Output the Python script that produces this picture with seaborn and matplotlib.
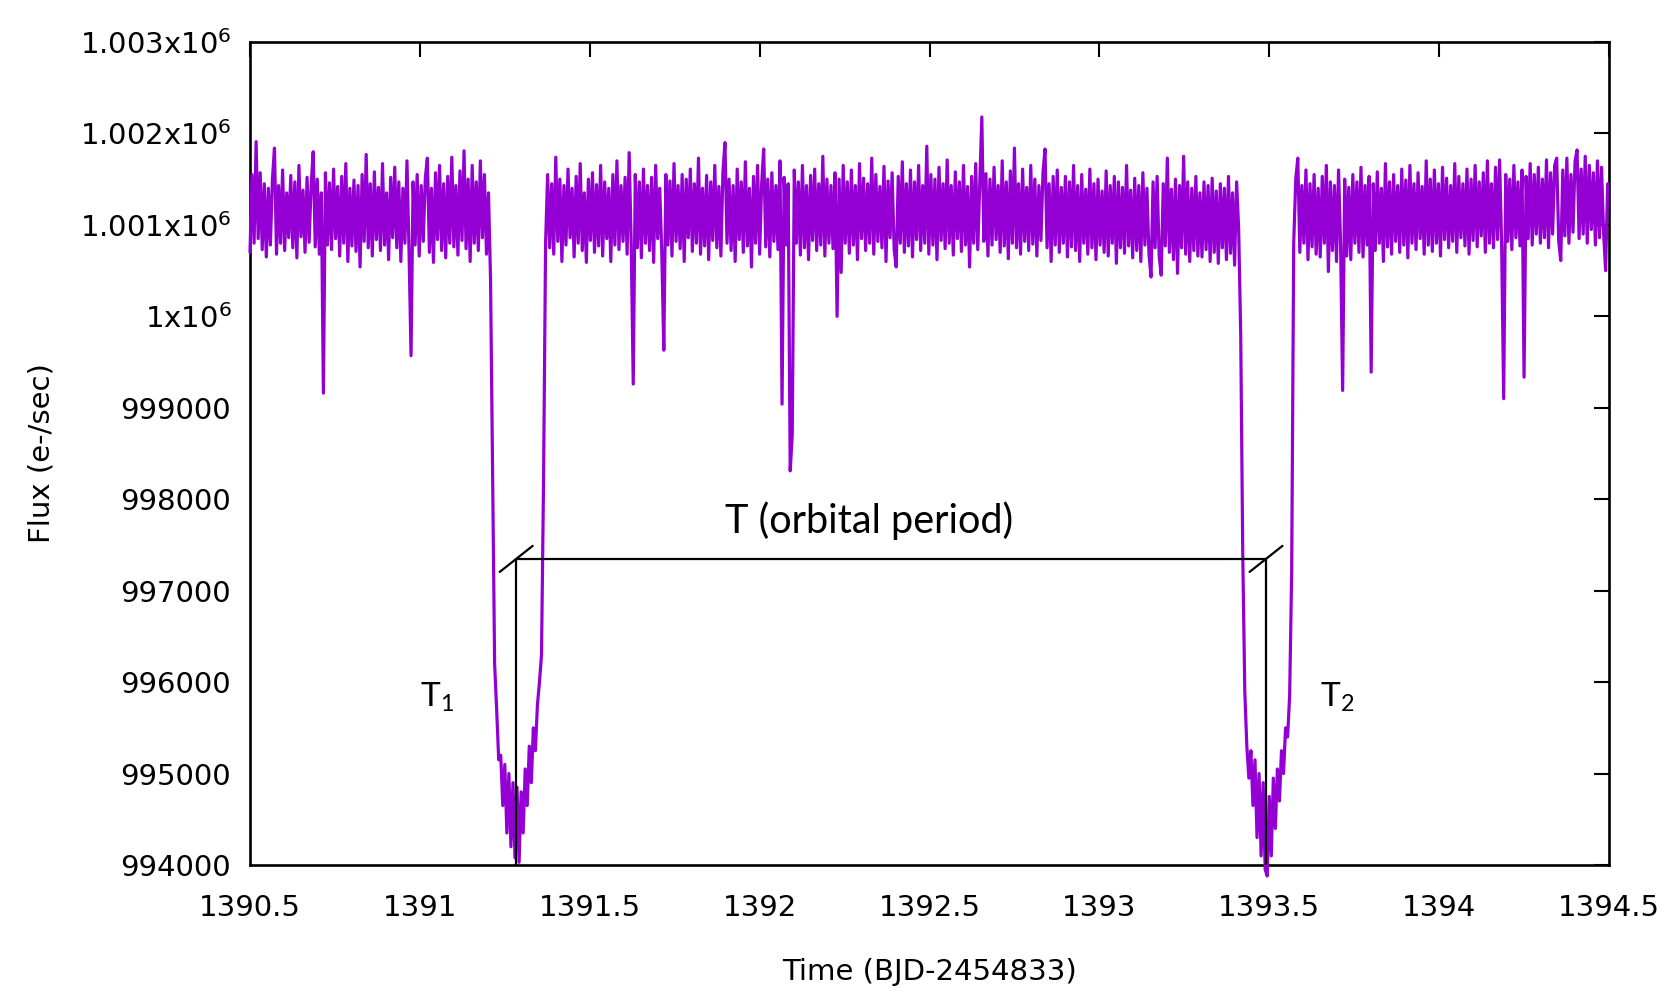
import numpy as np
import pandas as pd
import matplotlib
matplotlib.use("Agg")
import matplotlib.pyplot as plt
import seaborn as sns

# ---------------- data ----------------
cadence = 0.006  # days between samples

start_before = 1390.500
flux_before = [
    1000700, 1001550, 1000800, 1001910, 1000850, 1001570, 1000730, 1001450, 1000650, 1001400,
    1000780, 1001500, 1001840, 1000680, 1001430, 1000800, 1001600, 1000720, 1001350, 1000860,
    1001540, 1000750, 1001470, 1000640, 1001650, 1000870, 1001380, 1000700, 1001520, 1000810,
    1001430, 1001800, 1000760, 1001500, 1000680, 1001350, 999160, 1001570, 1000780, 1001460,
    1000730, 1001610, 1000850, 1001420, 1000660, 1001530, 1000800, 1001670, 1000600, 1001400,
    1000770, 1001490, 1000710, 1001430, 1000540, 1001550, 1000820, 1001770, 1000750, 1001450,
    1000660, 1001580, 1000840, 1001410, 1000720, 1001670, 1000780, 1001350, 1000620, 1001520,
    1000860, 1001630, 1000750, 1001470, 1000600, 1001400, 1000800, 1001700, 1000730, 999570,
    1001470, 1000780, 1001550, 1000660, 1001430, 1000820, 1001510, 1001730, 1000700, 1001400,
    1000590, 1001570, 1000840, 1001650, 1000720, 1001450, 1000640, 1001530, 1000800, 1001740,
    1000760, 1001430, 1000670, 1001590, 1000830, 1001810, 1000740, 1001500, 1000600, 1001650,
    1000800, 1001470, 1000720, 1001700, 1000860, 1001550, 1000680, 1001350,
]

start_transit1 = 1391.208
flux_transit1 = [
    1000400, 998300, 996200, 995700, 995150, 995200, 994650, 995100, 994350, 995000,
    994200, 994900, 994080, 994850, 994030, 994800, 994350, 995050, 994650, 995300,
    994900, 995500, 995250, 995750, 996000, 996300, 998200,
]

start_between = 1391.370
flux_between = [
    1000800, 1001550, 1000750, 1001450, 1000680, 1001740, 1000820, 1001500, 1000600, 1001430,
    1000780, 1001610, 1000860, 1001400, 1000650, 1001530, 1000800, 1001670, 1000720, 1001350,
    1000590, 1001500, 1000830, 1001570, 1000700, 1001440, 1000770, 1001650, 1000660, 1001470,
    1000850, 1001400, 1000600, 1001550, 1000780, 1001700, 1000730, 1001430, 1000820, 1001520,
    1000680, 1001790, 1000800, 999260, 1001550, 1000750, 1001470, 1000640, 1001610, 1000800,
    1001430, 1000720, 1001520, 1000590, 1001650, 1000850, 1001400, 1000700, 999630, 1001550,
    1000780, 1001480, 1000660, 1001670, 1000820, 1001430, 1000740, 1001550, 1000600, 1001500,
    1000860, 1001610, 1000710, 1001450, 1000800, 1001730, 1000680, 1001400, 1000770, 1001540,
    1000620, 1001470, 1000830, 1001650, 1000750, 1001420, 1000660, 1001580, 1001900, 1000800,
    1001500, 1000720, 1001430, 1000600, 1001610, 1000840, 1001470, 1000700, 1001690, 1000770,
    1001400, 1000540, 1001530, 1000800, 1001650, 1000680, 1001450, 1001830, 1000760, 1001500,
    1000650, 1001570, 1000820, 1001430, 1000730, 1001700, 999040, 1001520, 1000780, 1001450,
    998310, 998700, 1001600, 1000800, 1001470, 1000670, 1001650, 1000750, 1001430, 1000620,
    1001540, 1000830, 1001610, 1000720, 1001450, 1000780, 1001750, 1000660, 1001500, 1000800,
    1001430, 1000740, 1001570, 1000000, 1001500, 1000480, 1001650, 1000800, 1001470, 1000690,
    1001600, 1000780, 1001430, 1000620, 1001670, 1000850, 1001510, 1000720, 1001450, 1000800,
    1001730, 1000680, 1001550, 1000820, 1001420, 1000750, 1001640, 1000600, 1001480, 1000860,
    1001570, 1000730, 1000540, 1001530, 1000800, 1001690, 1000700, 1001450, 1000770, 1001600,
    1000650, 1001470, 1000840, 1001650, 1000720, 1001430, 1000800, 1001860, 1000680, 1001550,
    1000780, 1001500, 1000620, 1001630, 1000830, 1001450, 1000740, 1001710, 1000800, 1001430,
    1000670, 1001580, 1000850, 1001470, 1000710, 1001650, 1000780, 1001420, 1000540, 1001530,
    1000800, 1001670, 1000730, 1001450, 1002180, 1000820, 1001560, 1000660, 1001500, 1000780,
    1001630, 1000840, 1001430, 1000700, 1001700, 1000770, 1001470, 1000630, 1001590, 1000800,
    1001840, 1000750, 1001450, 1000680, 1001610, 1000820, 1001410, 1000720, 1001650, 1000790,
    1001500, 1000660, 1001430, 1000830, 1001570, 1001830, 1000750, 1001450, 1000600, 1001530,
    1000780, 1001600, 1000700, 1001410, 1000800, 1001530, 1000650, 1001470, 1000760, 1001650,
    1000720, 1001430, 1000600, 1001550, 1000800, 1001390, 1000680, 1001610, 1000750, 1001450,
    1000620, 1001500, 1000780, 1001370, 1000700, 1001590, 1000660, 1001430, 1000800, 1001530,
    1000580, 1001470, 1000750, 1001410, 1000690, 1001650, 1000770, 1001380, 1000640, 1001510,
    1000720, 1001430, 1000600, 1001570, 1000780, 1001400, 1000680, 1000430, 1001470, 1000750,
    1001530, 1000660, 1000450, 1001450, 1000770, 1001730, 1000700, 1001390, 1000620, 1001500,
    1000470, 1001430, 1000750, 1001750, 1000680, 1001470, 1000600, 1001400, 1000720, 1001530,
    1000660, 1001350, 1000650, 1001470, 1000730, 1001430, 1000600, 1001510, 1000700, 1001370,
    1000580, 1001450, 1000750, 1001400, 1000620, 1001530, 1000690, 1001350, 1000560, 1001470,
    1000950,
]

start_transit2 = 1393.416
flux_transit2 = [
    999800, 997400, 995900, 995300, 994950, 995250, 994650, 995150, 994300, 995000,
    994100, 994900, 993950, 993880, 994750, 994100, 994950, 994400, 995050, 994700,
    995250, 995000, 995500, 995400, 995850, 997200,
]

start_after = 1393.572
flux_after = [
    1000800, 1001500, 1001730, 1000700, 1001430, 1000800, 1001600, 1000620, 1001450, 1000760,
    1001550, 1000680, 1001400, 1000650, 1001530, 1000800, 1001650, 1000490, 1001470, 1000720,
    1001430, 1000600, 1001600, 1000780, 999190, 1001500, 1000660, 1001410, 1000620, 1001550,
    1000800, 1001470, 1000700, 1001630, 1000650, 1001430, 1000780, 1001530, 999390, 1001450,
    1000720, 1001580, 1000800, 1001400, 1000600, 1001670, 1000760, 1001470, 1000680, 1001550,
    1000820, 1001430, 1000700, 1001610, 1000780, 1001490, 1000640, 1001650, 1000800, 1001450,
    1000730, 1001570, 1000850, 1001420, 1000680, 1001700, 1000780, 1001500, 1000710, 1001600,
    1000800, 1001450, 1000660, 1001630, 1000840, 1001510, 1000750, 1001430, 1000820, 1001670,
    1000700, 1001530, 1000860, 1001450, 1000770, 1001610, 1000680, 1001500, 1000830, 1001650,
    1000760, 1001470, 1000880, 1001570, 1000700, 1001700, 1000800, 1001450, 1000750, 1001630,
    1000840, 1001710, 1000780, 999100, 1001550, 1000820, 1001500, 1000730, 1001650, 1000860,
    1001470, 1000770, 1001600, 999335, 1001530, 1000850, 1001670, 1000780, 1001550, 1000900,
    1001630, 1000800, 1001500, 1000860, 1001710, 1000750, 1001570, 1000900, 1001650, 1001730,
    1000820, 1000610, 1001600, 1000880, 1001730, 1000800, 1001550, 1000920, 1001690, 1001820,
    1000850, 1001610, 1000900, 1001750, 1000800, 1001650, 1000950, 1001570, 1000780, 1001700,
    1000860, 1001630, 1000920, 1000500, 1001450,
]

# annotation values (times of the two transit minima, level of the period bracket)
t1_mid = 1391.283
t2_mid = 1393.490
bracket_flux = 997350
floor_flux = 994000

x_ticks = [1390.5, 1391, 1391.5, 1392, 1392.5, 1393, 1393.5, 1394, 1394.5]
x_tick_labels = ["1390.5", "1391", "1391.5", "1392", "1392.5", "1393", "1393.5", "1394", "1394.5"]
y_ticks = [994000, 995000, 996000, 997000, 998000, 999000, 1000000, 1001000, 1002000, 1003000]
y_tick_labels = ["994000", "995000", "996000", "997000", "998000", "999000",
                 r"$\mathregular{1x10^{6}}$", r"$\mathregular{1.001x10^{6}}$",
                 r"$\mathregular{1.002x10^{6}}$", r"$\mathregular{1.003x10^{6}}$"]

# ---------------- build table ----------------
segments = [(start_before, flux_before), (start_transit1, flux_transit1),
            (start_between, flux_between), (start_transit2, flux_transit2),
            (start_after, flux_after)]
times = np.concatenate([s + cadence * np.arange(len(f)) for s, f in segments])
fluxes = np.concatenate([np.asarray(f, dtype=float) for _, f in segments])
df = pd.DataFrame({"time": times, "flux": fluxes})

# ---------------- plot ----------------
sns.set_theme(style="white")
plt.rcParams["font.family"] = ["DejaVu Sans"]
plt.rcParams["mathtext.default"] = "regular"

fig = plt.figure(figsize=(16.66, 10), dpi=100)
ax = fig.add_axes([250 / 1666, 135 / 1000, 1359 / 1666, 823 / 1000])

sns.lineplot(data=df, x="time", y="flux", ax=ax, color="#9400D3",
             linewidth=2.3, estimator=None, sort=False, clip_on=False, zorder=3)

# orbital period bracket
lw_ann = 1.6
ax.plot([t1_mid, t2_mid], [bracket_flux, bracket_flux], color="black", lw=lw_ann, zorder=4)
for tm in (t1_mid, t2_mid):
    ax.plot([tm, tm], [bracket_flux, floor_flux], color="black", lw=lw_ann, zorder=4)
    ax.plot([tm - 0.048, tm + 0.049], [bracket_flux - 145, bracket_flux + 140],
            color="black", lw=lw_ann, zorder=4)

ann_font = ["Lato", "DejaVu Sans"]
ax.text((t1_mid + t2_mid) / 2 - 0.065, 997630, "T (orbital period)", ha="center",
        va="baseline", fontsize=28.5, family=ann_font, color="black")
ax.text(1391.0, 995730, r"$\mathregular{T_1}$", ha="left", va="baseline",
        fontsize=24, family=ann_font, color="black")
ax.text(1393.649, 995730, r"$\mathregular{T_2}$", ha="left", va="baseline",
        fontsize=24, family=ann_font, color="black")

ax.set_xlim(1390.5, 1394.5)
ax.set_ylim(994000, 1003000)
ax.set_xticks(x_ticks)
ax.set_xticklabels(x_tick_labels)
ax.set_yticks(y_ticks)
ax.set_yticklabels(y_tick_labels)

ax.tick_params(axis="both", direction="in", length=10.8, width=1.5, color="black",
               labelsize=21, labelcolor="black", top=True, right=True)
ax.tick_params(axis="x", pad=21)
ax.tick_params(axis="y", pad=13.5)

for sp in ax.spines.values():
    sp.set_visible(True)
    sp.set_linewidth(1.9)
    sp.set_color("black")

ax.set_xlabel("Time (BJD-2454833)", fontsize=21, color="black")
ax.set_ylabel("Flux (e-/sec)", fontsize=21, color="black")
ax.xaxis.set_label_coords(0.5, -0.113)
ax.yaxis.set_label_coords(-0.143, 0.5)
ax.grid(False)

fig.savefig("out.png", dpi=100, facecolor="white")
